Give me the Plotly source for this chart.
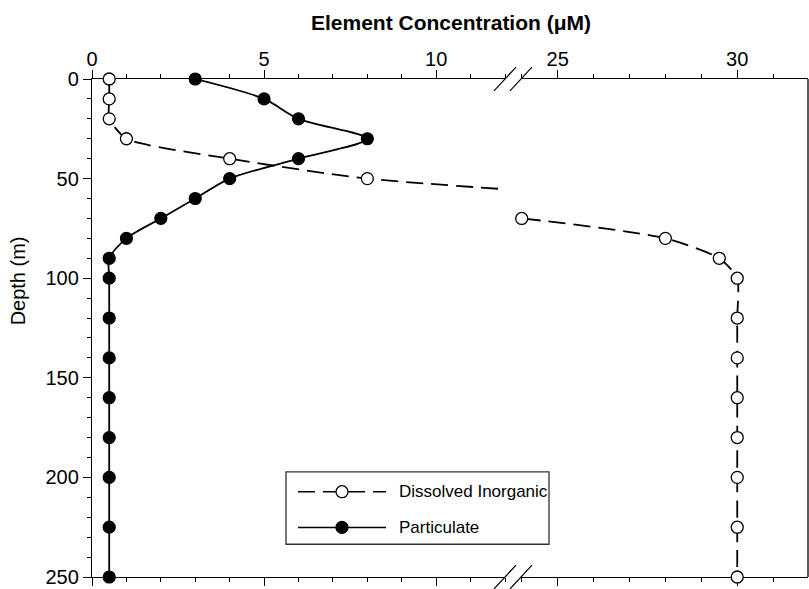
import plotly.graph_objects as go

# ---- data ----
depth_dissolved = [0, 10, 20, 30, 40, 50, 70, 80, 90, 100, 120, 140, 160, 180, 200, 225, 250]
conc_dissolved = [0.5, 0.5, 0.5, 1.0, 4.0, 8.0, 24.0, 28.0, 29.5, 30, 30, 30, 30, 30, 30, 30, 30]

depth_particulate = [0, 10, 20, 30, 40, 50, 60, 70, 80, 90, 100, 120, 140, 160, 180, 200, 225, 250]
conc_particulate = [3, 5, 6, 8, 6, 4, 3, 2, 1, 0.5, 0.5, 0.5, 0.5, 0.5, 0.5, 0.5, 0.5, 0.5]

left_ticks = [0, 5, 10]
right_ticks = [25, 30]
depth_ticks = [0, 50, 100, 150, 200, 250]

series_names = ["Dissolved Inorganic", "Particulate"]
x_title = "Element Concentration (\u03bcM)"
y_title = "Depth (m)"

# ---- layout geometry (pixels) ----
W, H = 809, 589
ML, MR, MT, MB = 92, 1, 79, 8
PW, PH = W - ML - MR, H - MT - MB
left_end_px, right_start_px = 505, 521
dom_left = [0, (left_end_px - ML) / PW]
dom_right = [(right_start_px - ML) / PW, 1]
range_left = [0, 12.0]
range_right = [23.98, 31.97]
FONT = "Liberation Sans, Arial, sans-serif"
TICK_SIZE = 20


def px2paper_x(px):
    return (px - ML) / PW


def px2paper_y(py):
    return (H - MB - py) / PH


fig = go.Figure()

ranges = {"x": range_left, "x2": range_right}
for xa in ["x", "x2"]:
    lo, hi = ranges[xa]
    # lines (clipped to each sub-panel)
    fig.add_trace(go.Scatter(x=conc_dissolved, y=depth_dissolved, mode="lines",
                             line=dict(color="black", width=1.8, dash="17px,8px", shape="spline", smoothing=0.6),
                             xaxis=xa, yaxis="y", showlegend=False, hoverinfo="skip"))
    fig.add_trace(go.Scatter(x=conc_particulate, y=depth_particulate, mode="lines",
                             line=dict(color="black", width=1.8, shape="spline", smoothing=0.8),
                             xaxis=xa, yaxis="y", showlegend=False, hoverinfo="skip"))
    # markers only for points inside this panel
    dx = [c for c in conc_dissolved if lo <= c <= hi]
    dy = [d for c, d in zip(conc_dissolved, depth_dissolved) if lo <= c <= hi]
    px_ = [c for c in conc_particulate if lo <= c <= hi]
    py_ = [d for c, d in zip(conc_particulate, depth_particulate) if lo <= c <= hi]
    fig.add_trace(go.Scatter(x=px_, y=py_, mode="markers", cliponaxis=False,
                             marker=dict(symbol="circle", size=12, color="black",
                                         line=dict(color="black", width=1.2)),
                             xaxis=xa, yaxis="y", showlegend=False, name=series_names[1]))
    fig.add_trace(go.Scatter(x=dx, y=dy, mode="markers", cliponaxis=False,
                             marker=dict(symbol="circle", size=12, color="white",
                                         line=dict(color="black", width=1.3)),
                             xaxis=xa, yaxis="y", showlegend=False, name=series_names[0]))

axis_common = dict(
    side="top", anchor="y", showline=True, linecolor="black", linewidth=1.3,
    mirror="ticks", ticks="outside", ticklen=8, tickwidth=1.2, tickcolor="black",
    showgrid=False, zeroline=False, layer="below traces", ticklabeloverflow="allow",
    tickfont=dict(family=FONT, size=TICK_SIZE, color="black"), ticklabelstandoff=-4,
    minor=dict(dtick=1, ticks="outside", ticklen=4, tickwidth=1.1, tickcolor="black", showgrid=False),
)

fig.update_layout(
    width=W, height=H,
    margin=dict(l=ML, r=MR, t=MT, b=MB, pad=0),
    paper_bgcolor="white", plot_bgcolor="white",
    showlegend=False,
    font=dict(family=FONT, color="black"),
    xaxis=dict(domain=dom_left, range=range_left, tickmode="array", tickvals=left_ticks,
               ticktext=[str(t) for t in left_ticks], **axis_common),
    xaxis2=dict(domain=dom_right, range=range_right, tickmode="array", tickvals=right_ticks,
                ticktext=[str(t) for t in right_ticks], **axis_common),
    yaxis=dict(range=[250, 0], anchor="x", tickmode="array", tickvals=depth_ticks,
               ticktext=[str(t) for t in depth_ticks], ticklabeloverflow="allow",
               showline=True, linecolor="black", linewidth=1.3, ticks="outside", ticklen=8,
               tickwidth=1.2, tickcolor="black", showgrid=False, zeroline=False, layer="below traces",
               tickfont=dict(family=FONT, size=TICK_SIZE, color="black"), ticklabelstandoff=0,
               minor=dict(dtick=10, ticks="outside", ticklen=4, tickwidth=1.1, tickcolor="black",
                          showgrid=False)),
)

shapes = []
# right spine
shapes.append(dict(type="line", xref="paper", yref="paper", x0=1, x1=1, y0=0, y1=1,
                   line=dict(color="black", width=1.3)))
# axis break marks (top and bottom)
for ypx in [MT, H - MB]:
    for cx in [left_end_px, right_start_px]:
        shapes.append(dict(type="line", xref="paper", yref="paper",
                           x0=px2paper_x(cx - 11), x1=px2paper_x(cx + 11),
                           y0=px2paper_y(ypx + 12), y1=px2paper_y(ypx - 12),
                           line=dict(color="black", width=1.2)))

# custom legend
lx0, ly0, lx1, ly1 = 286, 475, 549, 548
shapes.append(dict(type="rect", xref="paper", yref="paper",
                   x0=px2paper_x(lx0), x1=px2paper_x(lx1), y0=px2paper_y(ly1), y1=px2paper_y(ly0),
                   fillcolor="white", line=dict(color="#333333", width=1.3), layer="above"))
rows = [(495, "17px,8px", "white"), (531, "solid", "black")]
for (ry, dash, fill), name in zip(rows, series_names):
    shapes.append(dict(type="line", xref="paper", yref="paper",
                       x0=px2paper_x(298), x1=px2paper_x(386), y0=px2paper_y(ry), y1=px2paper_y(ry),
                       line=dict(color="black", width=1.5, dash=dash), layer="above"))
    shapes.append(dict(type="circle", xref="paper", yref="paper",
                       xsizemode="pixel", ysizemode="pixel",
                       xanchor=px2paper_x(342), yanchor=px2paper_y(ry),
                       x0=-6, x1=6, y0=-6, y1=6,
                       fillcolor=fill, line=dict(color="black", width=1.3), layer="above"))
    fig.add_annotation(x=px2paper_x(397), y=px2paper_y(ry), xref="paper", yref="paper",
                       text=name, showarrow=False, xanchor="left", yanchor="middle",
                       font=dict(family=FONT, size=17, color="black"))

fig.update_layout(shapes=shapes)

# titles
fig.add_annotation(x=px2paper_x(451), y=px2paper_y(22), xref="paper", yref="paper",
                   text="<b>" + x_title + "</b>",
                   showarrow=False, xanchor="center", yanchor="middle",
                   font=dict(family=FONT, size=21, color="black"))
fig.add_annotation(x=px2paper_x(18), y=px2paper_y(283), xref="paper", yref="paper", text=y_title,
                   showarrow=False, textangle=-90, xanchor="center", yanchor="middle",
                   font=dict(family=FONT, size=20, color="black"))

fig.write_html("out.html", config={"displayModeBar": False},
               post_script="document.body.style.margin='0';document.body.style.overflow='hidden';")
